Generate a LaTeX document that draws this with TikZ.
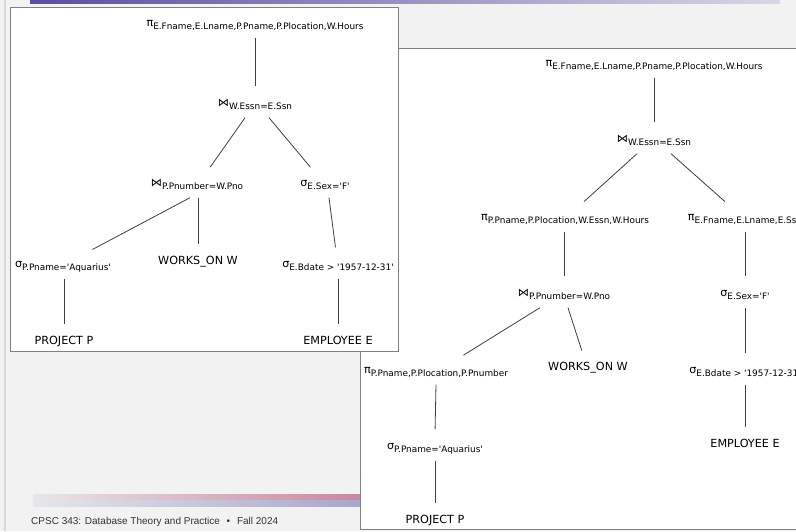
\documentclass[tikz,border=0pt]{standalone}
\usepackage{fontspec}
\usepackage{tikz}
\newfontfamily\treefont{DejaVu Sans}[Ligatures=TeXOff]
\newfontfamily\footfont{Liberation Sans}
\definecolor{slidebg}{HTML}{F2F2F2}
\definecolor{topbarL}{HTML}{5A4EA0}
\definecolor{topbarR}{HTML}{D8D7E6}
\definecolor{pinkL}{HTML}{E8E6E8}
\definecolor{pinkR}{HTML}{C8849E}
\definecolor{lavL}{HTML}{E6E6EC}
\definecolor{lavR}{HTML}{A7A3CC}
\newcommand{\relop}[2]{#1\raisebox{-3pt}{\fontsize{8.9}{10}\selectfont #2}}

\begin{document}
\begin{tikzpicture}[
  x=1pt, y=-1pt,
  op/.style={font=\treefont\fontsize{11.2}{13}\selectfont, inner xsep=1pt, inner ysep=7pt, text height=9pt, text depth=4pt},
  edge/.style={draw=black!75, line width=0.8pt, shorten >=4pt},
  panel/.style={draw=black!50, fill=white, line width=1pt}
]
\useasboundingbox (0,0) rectangle (796,531);
\fill[slidebg] (0,0) rectangle (796,531);
\draw[black!15, line width=1.5pt] (5,0) -- (5,531);
\shade[left color=topbarL, right color=topbarR] (30,0) rectangle (780,3);
\shade[left color=pinkL, right color=pinkR] (33,494) rectangle (370,500);
\shade[left color=lavL, right color=lavR] (33,500) rectangle (370,506);
\node[font=\footfont\fontsize{10}{12}\selectfont, text=black!80, anchor=west, inner sep=0pt] (footer) at (31,522) {CPSC 343: Database Theory and Practice\hspace{4pt} • \hspace{4pt}Fall 2024};

\path[panel] (360,48) rectangle (805,529);
\path[panel] (10,7) rectangle (398,351);

\node[op] (lpiTop) at (255,24) {\relop{π}{E.Fname,E.Lname,P.Pname,P.Plocation,W.Hours}};
\node[op] (ljoinW) at (255,104) {\relop{⋈}{W.Essn=E.Ssn}};
\node[op] (ljoinP) at (197,184) {\relop{⋈}{P.Pnumber=W.Pno}};
\node[op] (lsigSex) at (325,184) {\relop{σ}{E.Sex='F'}};
\node[op] (lsigAq) at (63,265) {\relop{σ}{P.Pname='Aquarius'}};
\node[op] (lworks) at (198,262) {WORKS\_ON W};
\node[op] (lsigBd) at (338,265) {\relop{σ}{E.Bdate > '1957-12-31'}};
\node[op] (lproj) at (64,342) {PROJECT P};
\node[op] (lemp) at (338,342) {EMPLOYEE E};

\draw[edge] (lpiTop.south) -- (ljoinW.north);
\draw[edge] ([xshift=-10pt]ljoinW.south) -- ([xshift=11pt]ljoinP.north);
\draw[edge] ([xshift=14pt]ljoinW.south) -- ([xshift=-12pt]lsigSex.north);
\draw[edge] ([xshift=-7pt]ljoinP.south) -- ([xshift=26pt]lsigAq.north);
\draw[edge] ([xshift=1pt]ljoinP.south) -- (lworks.north);
\draw[edge] ([xshift=4pt]lsigSex.south) -- ([xshift=-2pt]lsigBd.north);
\draw[edge] ([xshift=1pt]lsigAq.south) -- (lproj.north);
\draw[edge] (lsigBd.south) -- (lemp.north);

\node[op] (rpiTop) at (654,64) {\relop{π}{E.Fname,E.Lname,P.Pname,P.Plocation,W.Hours}};
\node[op] (rjoinW) at (654,140) {\relop{⋈}{W.Essn=E.Ssn}};
\node[op] (rpiP) at (565,218) {\relop{π}{P.Pname,P.Plocation,W.Essn,W.Hours}};
\node[op] (rpiE) at (745,218) {\relop{π}{E.Fname,E.Lname,E.Ssn}};
\node[op] (rjoinP) at (564,294) {\relop{⋈}{P.Pnumber=W.Pno}};
\node[op] (rsigSex) at (745,294) {\relop{σ}{E.Sex='F'}};
\node[op] (rpiPP) at (436,371) {\relop{π}{P.Pname,P.Plocation,P.Pnumber}};
\node[op] (rworks) at (588,368) {WORKS\_ON W};
\node[op] (rsigBd) at (745,371) {\relop{σ}{E.Bdate > '1957-12-31'}};
\node[op] (rsigAq) at (435,447) {\relop{σ}{P.Pname='Aquarius'}};
\node[op] (rproj) at (435,521) {PROJECT P};
\node[op] (remp) at (745,445) {EMPLOYEE E};

\draw[edge] (rpiTop.south) -- (rjoinW.north);
\draw[edge] ([xshift=-17pt]rjoinW.south) -- ([xshift=16pt]rpiP.north);
\draw[edge] ([xshift=17pt]rjoinW.south) -- ([xshift=-17pt]rpiE.north);
\draw[edge] ([xshift=-1pt]rpiP.south) -- (rjoinP.north);
\draw[edge] (rpiE.south) -- (rsigSex.north);
\draw[edge] ([xshift=-24pt]rjoinP.south) -- ([xshift=24pt]rpiPP.north);
\draw[edge] ([xshift=4pt]rjoinP.south) -- ([xshift=-5pt]rworks.north);
\draw[edge] (rsigSex.south) -- (rsigBd.north);
\draw[edge] (rpiPP.south) -- (rsigAq.north);
\draw[edge] (rsigAq.south) -- (rproj.north);
\draw[edge] (rsigBd.south) -- (remp.north);
\end{tikzpicture}
\end{document}
